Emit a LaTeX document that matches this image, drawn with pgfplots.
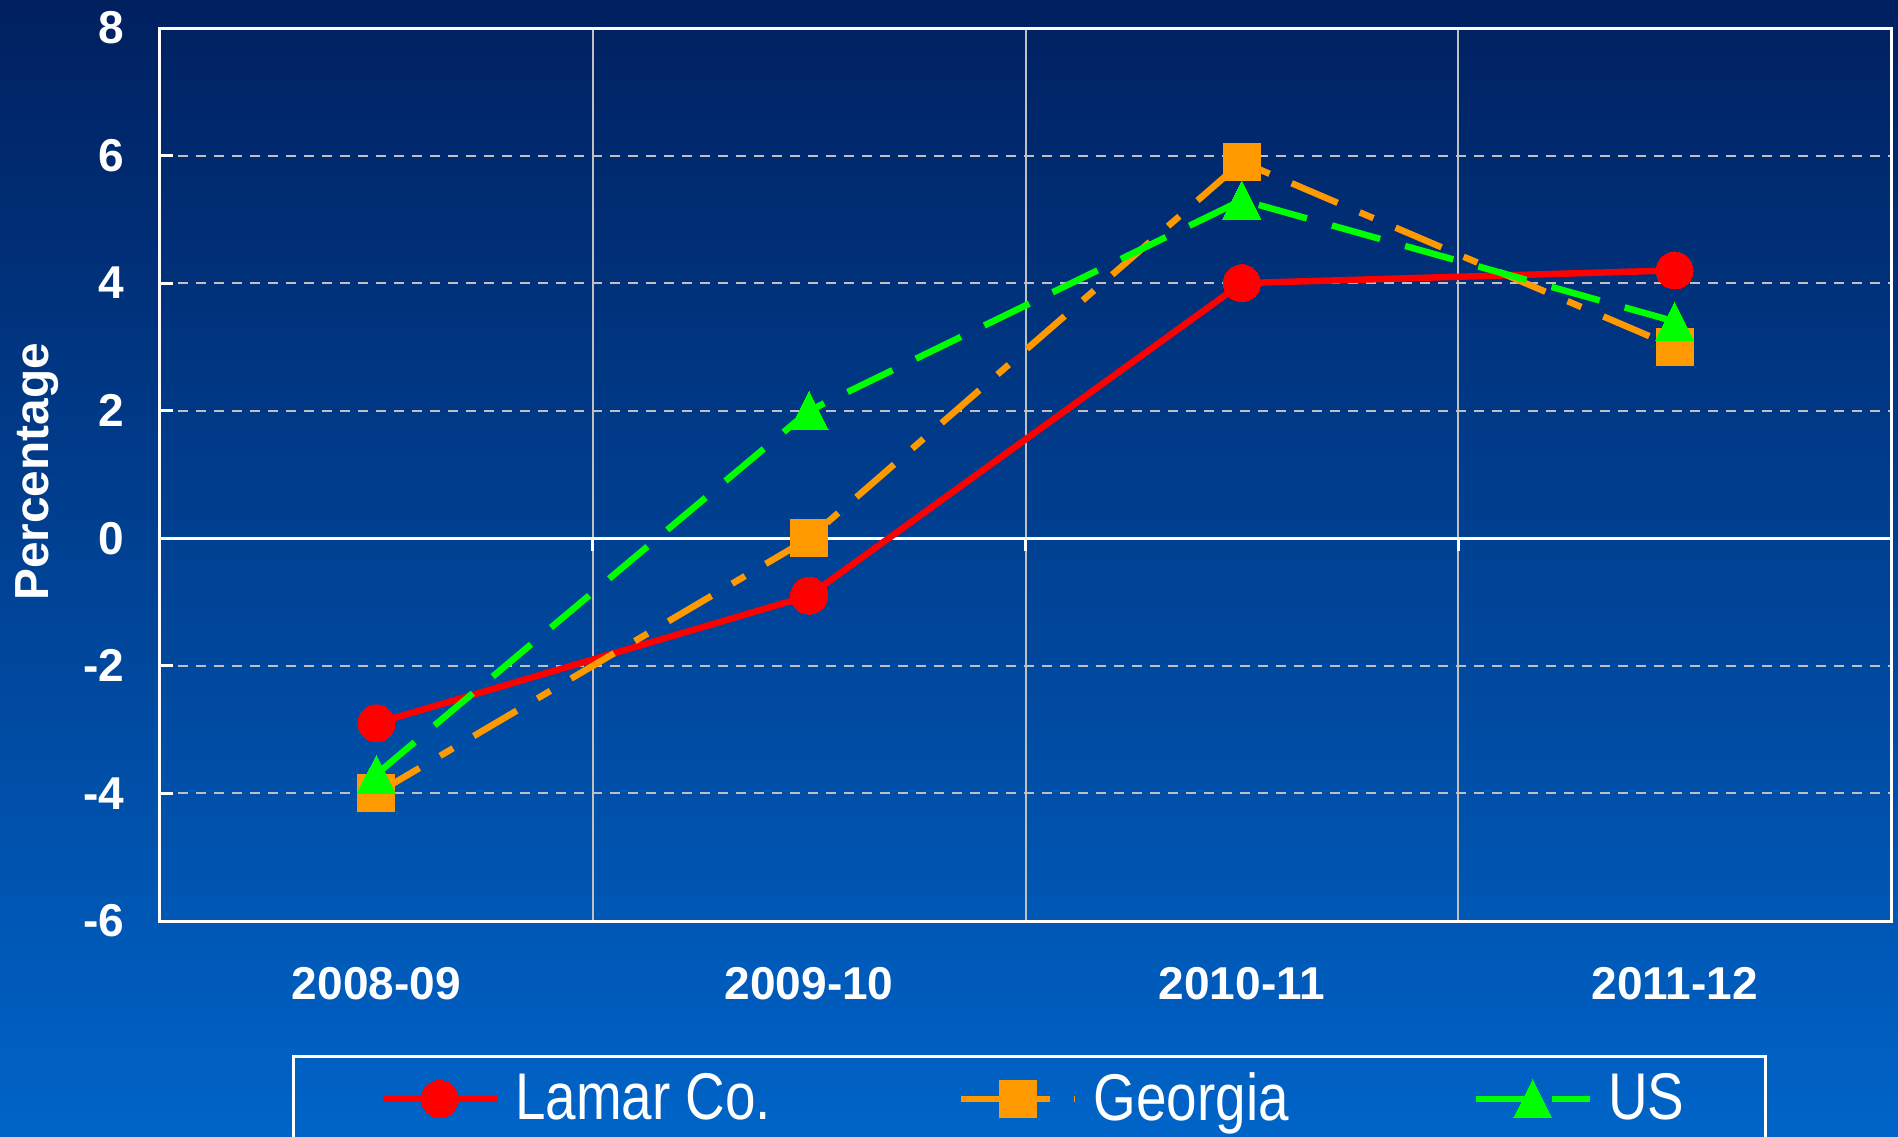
\documentclass[border=0pt]{standalone}
\usepackage{pgfplots}
\pgfplotsset{compat=1.18}
\usepackage{fontspec}
\setmainfont{Liberation Sans}
\newfontfamily\narrowfont[FakeStretch=0.83]{Liberation Sans}
\definecolor{bgtop}{HTML}{002060}
\definecolor{bgbot}{HTML}{0064C8}
\definecolor{lamar}{HTML}{FF0000}
\definecolor{georgia}{HTML}{FF9900}
\definecolor{usgreen}{HTML}{00FF00}
\definecolor{gridgray}{HTML}{C0C0C0}
\begin{document}
\begin{tikzpicture}
\useasboundingbox (0,0) rectangle (18.98,11.36);
\clip (0,0) rectangle (18.98,11.36);
\shade[top color=bgtop, bottom color=bgbot] (0,0) rectangle (18.98,11.36);
\begin{axis}[
 at={(1.60cm,2.15cm)}, anchor=south west,
 scale only axis, width=17.31cm, height=8.93cm,
 xmin=-0.5, xmax=3.5, ymin=-6, ymax=8,
 axis line style={white, line width=0.03cm},
 xtick={0,1,2,3}, xticklabels={2008-09,2009-10,2010-11,2011-12},
 minor xtick={0.5,1.5,2.5}, xminorgrids,
 minor x grid style={gridgray, line width=0.02cm},
 minor tick length=0pt,
 ytick={-6,-4,...,8}, yticklabels={-6,-4,-2,0,2,4,6,8},
 ymajorgrids,
 y grid style={gridgray, dash pattern=on 0.1cm off 0.08cm, line width=0.02cm},
 ytick pos=left, xtick pos=bottom,
 tick align=inside, major tick length=0.13cm,
 ytick style={white, line width=0.03cm},
 xtick style={draw=none},
 tick label style={white, font=\bfseries\fontsize{13.1}{16}\selectfont},
 yticklabel style={inner sep=0pt, anchor=east, xshift=-0.35cm},
 xticklabel style={inner sep=0pt, anchor=north, yshift=-0.46cm},
 ylabel={Percentage},
 ylabel style={white, font=\bfseries\fontsize{13.6}{16}\selectfont, at={(axis description cs:-0.0711,0.503)}, anchor=center, rotate=0},
 legend columns=3,
 legend style={at={(0.1265,-0.1993)}, anchor=west, draw=none, fill=none, text=white,
   font=\narrowfont\fontsize{18.8}{22}\selectfont, column sep=0.15cm, inner sep=0pt,
   nodes={inner sep=0pt}},
 legend image code/.code={\draw[#1, mark repeat=2, mark phase=2] plot coordinates {(0cm,0cm) (0.57cm,0cm) (1.14cm,0cm)};},
]
\draw[white, line width=0.03cm] (axis cs:-0.5,0) -- (axis cs:3.5,0);
\draw[white, line width=0.03cm] (axis cs:0.5,0) -- ([yshift=-0.13cm]axis cs:0.5,0);
\draw[white, line width=0.03cm] (axis cs:1.5,0) -- ([yshift=-0.13cm]axis cs:1.5,0);
\draw[white, line width=0.03cm] (axis cs:2.5,0) -- ([yshift=-0.13cm]axis cs:2.5,0);
\addplot[lamar, line width=0.065cm, mark=*, mark size=0.185cm,
  mark options={solid, fill=lamar, draw=lamar, line width=0pt}]
  coordinates {(0,-2.9) (1,-0.9) (2,4.0) (3,4.2)};
\addlegendentry{\makebox[4.28cm][l]{Lamar Co.}}
\addplot[georgia, line width=0.065cm, dash pattern=on 0.5cm off 0.24cm on 0.15cm off 0.24cm,
  mark=square*, mark size=0.185cm,
  mark options={solid, fill=georgia, draw=georgia, line width=0pt}]
  coordinates {(0,-4.0) (1,0.0) (2,5.9) (3,3.0)};
\addlegendentry{\makebox[3.64cm][l]{Georgia}}
\addplot[usgreen, line width=0.065cm, dash pattern=on 0.5cm off 0.26cm,
  mark=triangle*, mark size=0.22cm,
  mark options={solid, fill=usgreen, draw=usgreen, line width=0pt, yshift=-0.063cm, yscale=1.15}]
  coordinates {(0,-3.7) (1,2.0) (2,5.3) (3,3.4)};
\addlegendentry{US}
\end{axis}
\draw[white, line width=0.03cm] (2.93,0.80) rectangle (17.65,-0.5);
\end{tikzpicture}
\end{document}
